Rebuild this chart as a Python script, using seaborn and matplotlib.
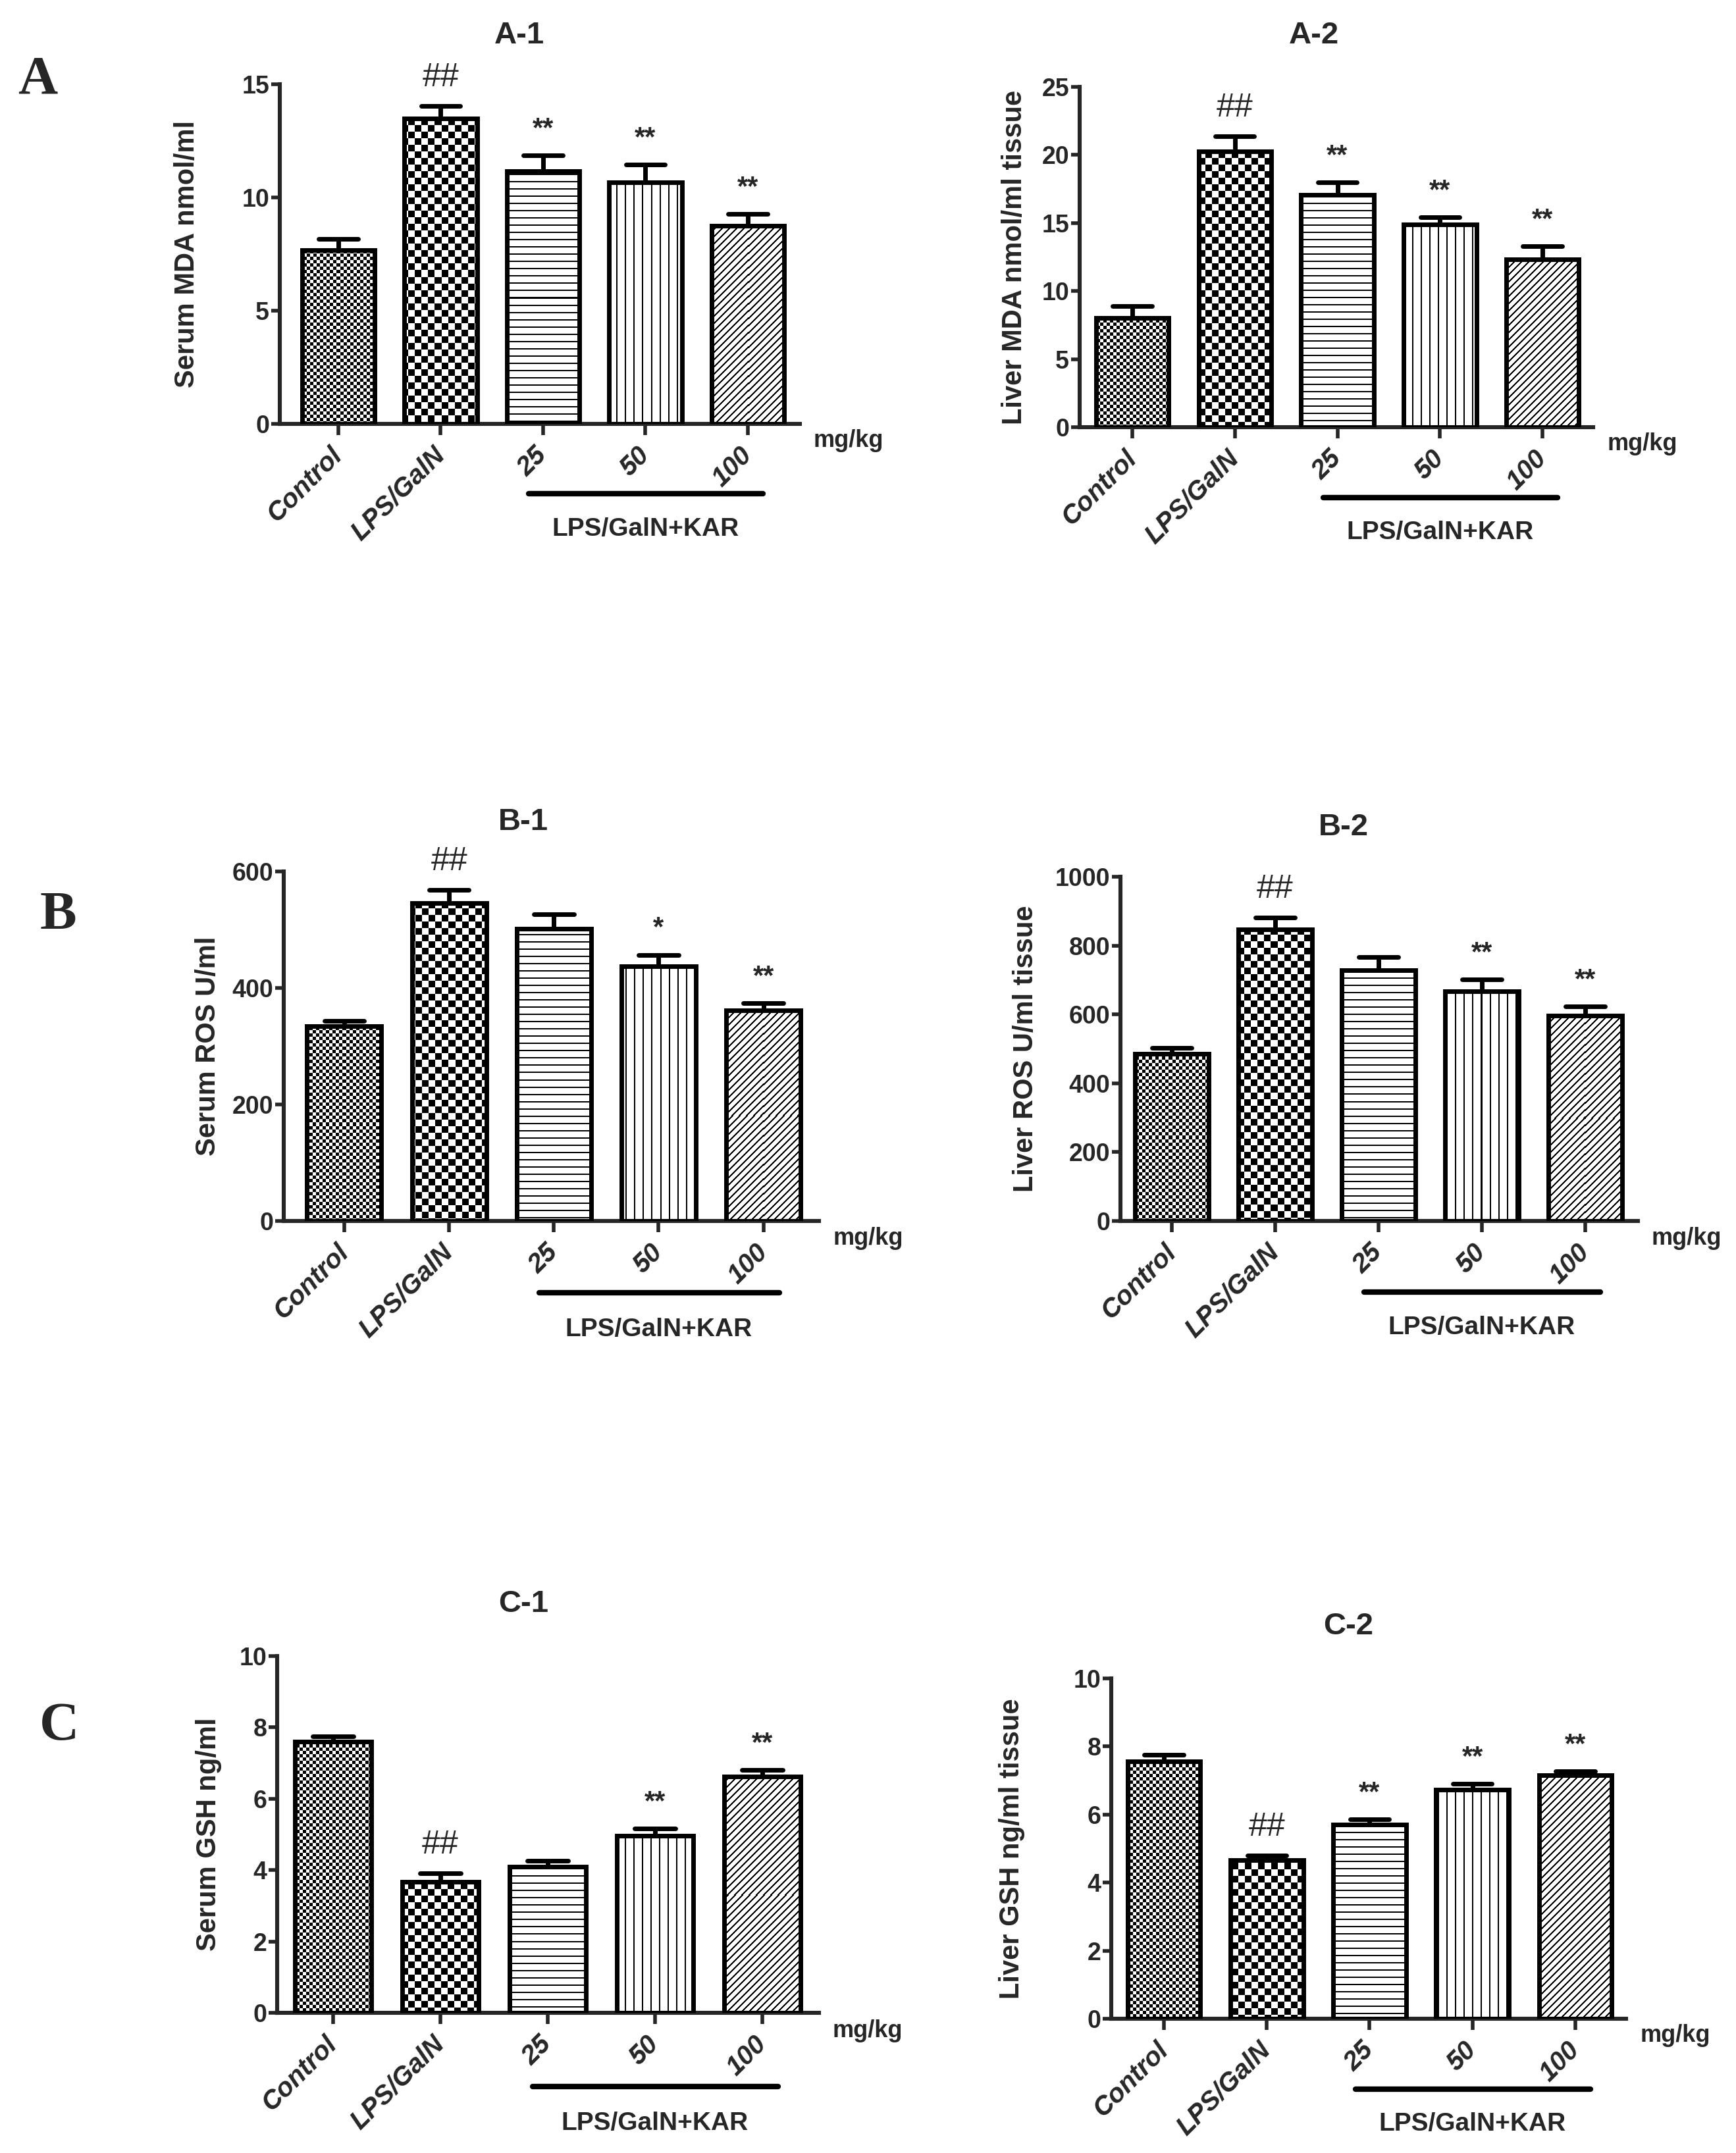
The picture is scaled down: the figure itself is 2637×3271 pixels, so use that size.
import numpy as np
import pandas as pd
import seaborn as sns
import matplotlib
matplotlib.use('Agg')
from matplotlib import pyplot as plt
from matplotlib import transforms

# ---- data ----
groups = ['Control', 'LPS/GalN', '25', '50', '100']

serum_mda = [7.67, 13.49, 11.17, 10.68, 8.75]
serum_mda_err = [0.50, 0.56, 0.68, 0.77, 0.51]
liver_mda = [8.02, 20.28, 17.06, 14.91, 12.32]
liver_mda_err = [0.86, 1.10, 0.94, 0.52, 0.97]
serum_ros = [335, 546, 502, 437, 362]
serum_ros_err = [9, 22, 25, 20, 12]
liver_ros = [486, 847, 729, 668, 597]
liver_ros_err = [16, 34, 37, 33, 27]
serum_gsh = [7.61, 3.67, 4.10, 4.96, 6.63]
serum_gsh_err = [0.13, 0.24, 0.17, 0.21, 0.17]
liver_gsh = [7.56, 4.67, 5.70, 6.74, 7.15]
liver_gsh_err = [0.19, 0.13, 0.16, 0.17, 0.12]

marks_a = ['', '##', '**', '**', '**']
marks_b1 = ['', '##', '', '*', '**']
marks_b2 = ['', '##', '', '**', '**']
marks_c1 = ['', '##', '', '**', '**']
marks_c2 = ['', '##', '**', '**', '**']

yticks_a1 = [0, 5, 10, 15]
yticks_a2 = [0, 5, 10, 15, 20, 25]
yticks_b1 = [0, 200, 400, 600]
yticks_b2 = [0, 200, 400, 600, 800, 1000]
yticks_c = [0, 2, 4, 6, 8, 10]

panels = [
    ('A-1', 'Serum MDA nmol/ml', serum_mda, serum_mda_err, marks_a, yticks_a1),
    ('A-2', 'Liver MDA nmol/ml tissue', liver_mda, liver_mda_err, marks_a, yticks_a2),
    ('B-1', 'Serum ROS U/ml', serum_ros, serum_ros_err, marks_b1, yticks_b1),
    ('B-2', 'Liver ROS U/ml tissue', liver_ros, liver_ros_err, marks_b2, yticks_b2),
    ('C-1', 'Serum GSH ng/ml', serum_gsh, serum_gsh_err, marks_c1, yticks_c),
    ('C-2', 'Liver GSH ng/ml tissue', liver_gsh, liver_gsh_err, marks_c2, yticks_c),
]

# ---- layout (pixels of the 2637x3271 canvas) ----
W, H, DPI = 2637, 3271, 200
# left, right, top, bottom, xlim, ylabel x, title (x, y)
layout = [
    (425, 1215, 128, 644, (-0.572, 4.508), -0.178, (789, 54)),
    (1640, 2420, 132, 649, (-0.514, 4.494), -0.127, (1996, 54)),
    (431, 1244, 1324, 1855, (-0.578, 4.530), -0.141, (795, 1249)),
    (1702, 2488, 1332, 1855, (-0.497, 4.510), -0.183, (2041, 1257)),
    (421, 1244, 2516, 3058, (-0.521, 4.528), -0.126, (795, 2437)),
    (1688, 2470, 2550, 3067, (-0.512, 4.493), -0.193, (2048, 2471)),
]
letters = [('A', 57, 122), ('B', 88, 1391), ('C', 90, 2624)]

sns.set_style('ticks')
plt.rcParams['font.family'] = ['Liberation Sans', 'DejaVu Sans']
plt.rcParams['font.weight'] = 'bold'


def pattern(kind, h, w, x0, y0):
    jj, ii = np.meshgrid(np.arange(w) + x0, np.arange(h) + y0)
    if kind == 0:
        black = ((ii // 5 + jj // 5) % 2) == 0
    elif kind == 1:
        black = ((ii // 10 + jj // 10) % 2) == 0
    elif kind == 2:
        black = (ii % 11) < 2
    elif kind == 3:
        black = (jj % 13) < 2
    else:
        black = ((ii + jj) % 11) < 3
    return np.where(black, 0.0, 1.0)


fig = plt.figure(figsize=(W / DPI, H / DPI), dpi=DPI)

for (title, ylab, vals, errs, marks, yticks), lay in zip(panels, layout):
    L, R, T, B, xlim, ylx, tpos = lay
    ax = fig.add_axes([L / W, 1 - B / H, (R - L) / W, (B - T) / H])
    df = pd.DataFrame({'group': groups, 'value': vals})
    sns.barplot(data=df, x='group', y='value', color='white', edgecolor='black',
                linewidth=2.5, width=0.71, errorbar=None, ax=ax, zorder=3)
    ax.set_xlim(*xlim)
    ax.set_ylim(0, yticks[-1])
    ax.set_yticks(yticks)
    ax.set_yticklabels([str(t) for t in yticks], fontsize=13.5, fontweight='bold')
    ax.set_xticks(range(len(groups)))
    ax.set_xticklabels(groups, rotation=45, ha='right', va='center', rotation_mode='anchor',
                       fontsize=14.5, fontweight='bold', fontstyle='italic')
    ax.tick_params(axis='x', length=6, width=2, pad=9)
    ax.tick_params(axis='y', length=4.7, width=2, pad=1)
    sns.despine(ax=ax)
    for s in ['left', 'bottom']:
        ax.spines[s].set_linewidth(2.2)
    ax.set_xlabel('')
    ax.set_ylabel(ylab, fontsize=15, fontweight='bold', va='center')
    ax.yaxis.set_label_coords(ylx, 0.5)

    # patterned fills, clipped to each bar
    for k, p in enumerate(ax.patches):
        p.set_facecolor('none')
        ext = p.get_window_extent()
        w_px, h_px = int(round(ext.width)), int(round(ext.height))
        img = pattern(k, h_px, w_px, int(ext.x0), int(H - ext.y1))
        im = ax.imshow(img, cmap='gray', vmin=0, vmax=1, interpolation='nearest',
                       extent=(p.get_x(), p.get_x() + p.get_width(), 0, p.get_height()),
                       origin='upper', aspect='auto', zorder=2)
        im.set_clip_path(p)

    x = np.arange(len(groups))
    tops = np.array(vals) + np.array(errs)
    stems = ax.vlines(x, vals, tops, colors='black', linewidth=2.5, zorder=2.5)
    caps = ax.hlines(tops, x - 0.19, x + 0.19, colors='black', linewidth=2.5, zorder=2.5)
    caps.set_capstyle('round')
    caps.set_clip_on(False)
    stems.set_clip_on(False)

    for xi, top, m in zip(x, tops, marks):
        if not m:
            continue
        if m.startswith('#'):
            ax.annotate(m, (xi, top), xytext=(0, 15.5), textcoords='offset points',
                        ha='center', va='center', fontsize=18, fontweight='normal',
                        annotation_clip=False)
        else:
            ax.annotate(m, (xi, top), xytext=(0, 14.4), textcoords='offset points',
                        ha='center', va='center', fontsize=15, fontweight='bold',
                        annotation_clip=False)

    # dose bracket and labels
    trans = transforms.blended_transform_factory(ax.transData, ax.transAxes)
    ax.plot([2 - 0.14, 4 + 0.15], [-0.206, -0.206], color='black', linewidth=3,
            solid_capstyle='round', transform=trans, clip_on=False)
    ax.text(3, -0.31, 'LPS/GalN+KAR', transform=trans, ha='center', va='center',
            fontsize=14, fontweight='bold')
    ax.text(1 + 21 / (R - L), -0.05, 'mg/kg', transform=ax.transAxes, ha='left', va='center',
            fontsize=13, fontweight='bold')

    fig.text(tpos[0] / W, 1 - tpos[1] / H, title, ha='center', va='center',
             fontsize=17, fontweight='bold')

for letter, lx, ly in letters:
    fig.text(lx / W, 1 - ly / H, letter, ha='center', va='center', fontsize=30,
             fontweight='bold', fontfamily=['Liberation Serif', 'DejaVu Serif'])

fig.savefig('out.png', dpi=DPI, facecolor='white')
